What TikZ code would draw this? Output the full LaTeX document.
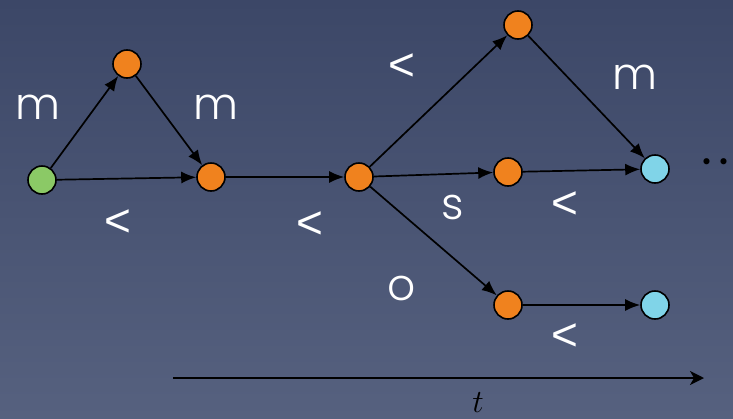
\documentclass[tikz,border=0pt]{standalone}
\usepackage{fontspec}
\setmainfont{Poppins}[UprightFont=* Light]
\newfontfamily\lessfont{Liberation Sans}
\usetikzlibrary{arrows.meta}
\definecolor{bgtop}{HTML}{3C4767}
\definecolor{bgbottom}{HTML}{56617F}
\definecolor{leaf}{HTML}{8BC966}
\definecolor{amber}{HTML}{F0821E}
\definecolor{sky}{HTML}{80D4E8}

\begin{document}
\begin{tikzpicture}[x=1pt,y=-1pt,
  dot/.style={circle,draw=black,line width=1.6pt,minimum size=28pt,inner sep=0pt},
  start/.style={dot,fill=leaf},
  mid/.style={dot,fill=amber},
  goal/.style={dot,fill=sky},
  arrow/.style={-{Latex[length=15pt,width=12pt]},line width=1.7pt},
  timeline/.style={-{Stealth[length=14pt,width=14pt,inset=4pt]},line width=2pt},
  lab/.style={text=white,font=\fontsize{44}{50}\selectfont,inner sep=0pt},
  less/.style={lab,font=\lessfont\fontsize{46}{50}\selectfont}
]
\shade[top color=bgtop,bottom color=bgbottom] (0,0) rectangle (733,418);
\useasboundingbox (0,0) rectangle (733,418);

% states
\node[start] (g) at (42,180) {};
\node[mid] (a) at (127,64) {};
\node[mid] (b) at (211,177) {};
\node[mid] (c) at (359,177) {};
\node[mid] (d) at (518,25) {};
\node[mid] (e) at (508,172) {};
\node[mid] (f) at (508,305) {};
\node[goal] (h) at (655,169) {};
\node[goal] (k) at (655,305) {};
\node[font=\fontsize{60}{60}\selectfont,inner sep=0pt] (more) at (715,162) {.\kern6pt.};

\draw[arrow] (g)--(a); \draw[arrow] (a)--(b); \draw[arrow] (g)--(b);
\draw[arrow] (b)--(c);
\draw[arrow] (c)--(d); \draw[arrow] (c)--(e); \draw[arrow] (c)--(f);
\draw[arrow] (d)--(h); \draw[arrow] (e)--(h); \draw[arrow] (f)--(k);

% edge labels
\node[lab] (ga) at (38,107) {m};
\node[lab] (ab) at (216,107) {m};
\node[less] (gb) at (118,223) {<};
\node[less] (bc) at (310,225) {<};
\node[less] (cd) at (402,67) {<};
\node[lab] (dh) at (635,77) {m};
\node[lab] (ce) at (453,207) {s};
\node[less] (eh) at (565,205) {<};
\node[lab] (cf) at (402,288) {o};
\node[less] (fk) at (565,337) {<};

% time axis
\coordinate (t0) at (173,378);
\coordinate (t1) at (704,378);
\draw[timeline] (t0)--(t1);
\node[font=\Huge,scale=1.3,inner sep=0pt] (tlabel) at (478,403) {$t$};
\end{tikzpicture}
\end{document}
